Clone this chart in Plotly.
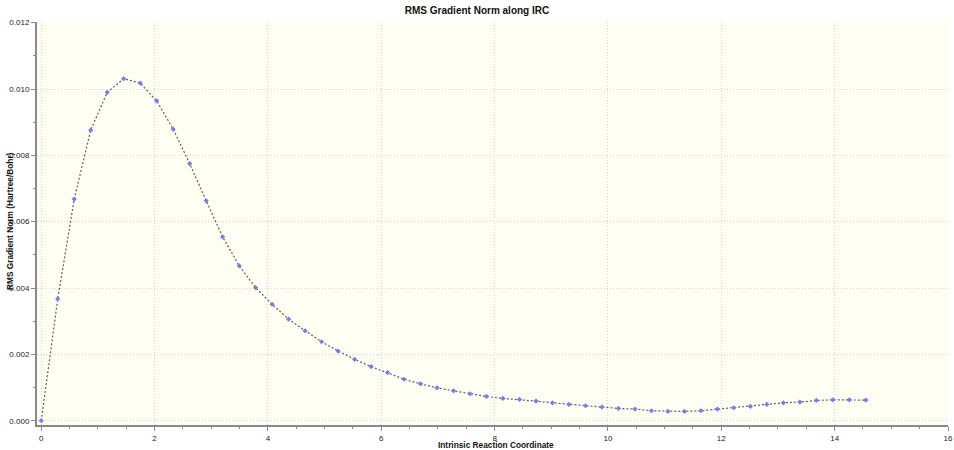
import plotly.graph_objects as go

step = 0.291
irc_index = list(range(51))
rms_grad = [
    0.0, 0.00367, 0.00668, 0.00876, 0.00990, 0.01031, 0.01018, 0.00964, 0.00879, 0.00775,
    0.00663, 0.00554, 0.00467, 0.00401, 0.00351, 0.00306, 0.00271, 0.00238, 0.00210, 0.00185,
    0.00163, 0.00145, 0.00125, 0.00111, 0.00099, 0.00090, 0.00081, 0.00073, 0.00067, 0.00064,
    0.00059, 0.00054, 0.00049, 0.00045, 0.00041, 0.00037, 0.00035, 0.00030, 0.00028, 0.00028,
    0.00030, 0.00035, 0.00039, 0.00043, 0.00049, 0.00054, 0.00056, 0.00061, 0.00063, 0.00063,
    0.00062,
]
irc = [i * step for i in irc_index]

x_ticks = [0, 2, 4, 6, 8, 10, 12, 14, 16]
y_ticks = [0.0, 0.002, 0.004, 0.006, 0.008, 0.010, 0.012]

FONT = "Liberation Sans, Arial, sans-serif"
W, H = 954, 450
ML, MR, MT, MB = 37, 6, 22, 25
PW, PH = W - ML - MR, H - MT - MB

fig = go.Figure()
fig.add_trace(go.Scatter(
    x=irc, y=rms_grad, mode="lines+markers",
    line=dict(color="#606060", width=1.2, dash="2px,2px"),
    marker=dict(symbol="diamond", size=4, color="#7a7af5"),
    showlegend=False, hoverinfo="x+y",
))

fig.update_layout(
    width=W, height=H,
    margin=dict(l=ML, r=MR, t=MT, b=MB),
    paper_bgcolor="white",
    plot_bgcolor="#fefef3",
    font=dict(family=FONT, size=8, color="#222"),
    title=dict(text="<b>RMS Gradient Norm along IRC</b>", x=0.5, xanchor="center",
               y=1 - 10 / H, yanchor="middle", font=dict(size=10, color="#111")),
    annotations=[
        dict(text="<b>Intrinsic Reaction Coordinate</b>", xref="paper", yref="paper",
             x=(495.5 - ML) / PW, y=-(445 - (H - MB)) / PH, xanchor="center", yanchor="middle",
             showarrow=False, font=dict(size=8.3, color="#111")),
        dict(text="<b>RMS Gradient Norm (Hartree/Bohr)</b>", xref="paper", yref="paper",
             x=(10 - ML) / PW, y=(H - MB - 221) / PH, xanchor="center", yanchor="middle",
             textangle=-90, showarrow=False, font=dict(size=8.3, color="#111")),
    ],
)
fig.update_xaxes(
    range=[-0.075, 16], tickvals=x_ticks, ticktext=[str(v) for v in x_ticks],
    showline=True, linecolor="#8a8a8a", linewidth=2,
    ticks="outside", ticklen=4, tickcolor="#8a8a8a", tickwidth=1,
    minor=dict(dtick=0.5, tick0=0, ticks="outside", ticklen=2, tickcolor="#8a8a8a", showgrid=False),
    showgrid=True, gridcolor="#d6d6d6", griddash="1px,2px", gridwidth=1,
    zeroline=False, automargin=False,
    tickfont=dict(size=8, color="#222"),
)
fig.update_yaxes(
    range=[-0.00013, 0.01202], tickvals=y_ticks, ticktext=[f"{v:.3f}" for v in y_ticks],
    showline=True, linecolor="#8a8a8a", linewidth=2,
    ticks="outside", ticklen=4, tickcolor="#8a8a8a", tickwidth=1,
    minor=dict(dtick=0.001, tick0=0, ticks="outside", ticklen=2, tickcolor="#8a8a8a", showgrid=False),
    showgrid=True, gridcolor="#d6d6d6", griddash="1px,2px", gridwidth=1,
    zeroline=False, automargin=False,
    tickfont=dict(size=8, color="#222"),
)

fig.write_html("out.html", config={"displayModeBar": False},
               post_script="document.body.style.margin='0px';document.body.style.overflow='hidden';")
